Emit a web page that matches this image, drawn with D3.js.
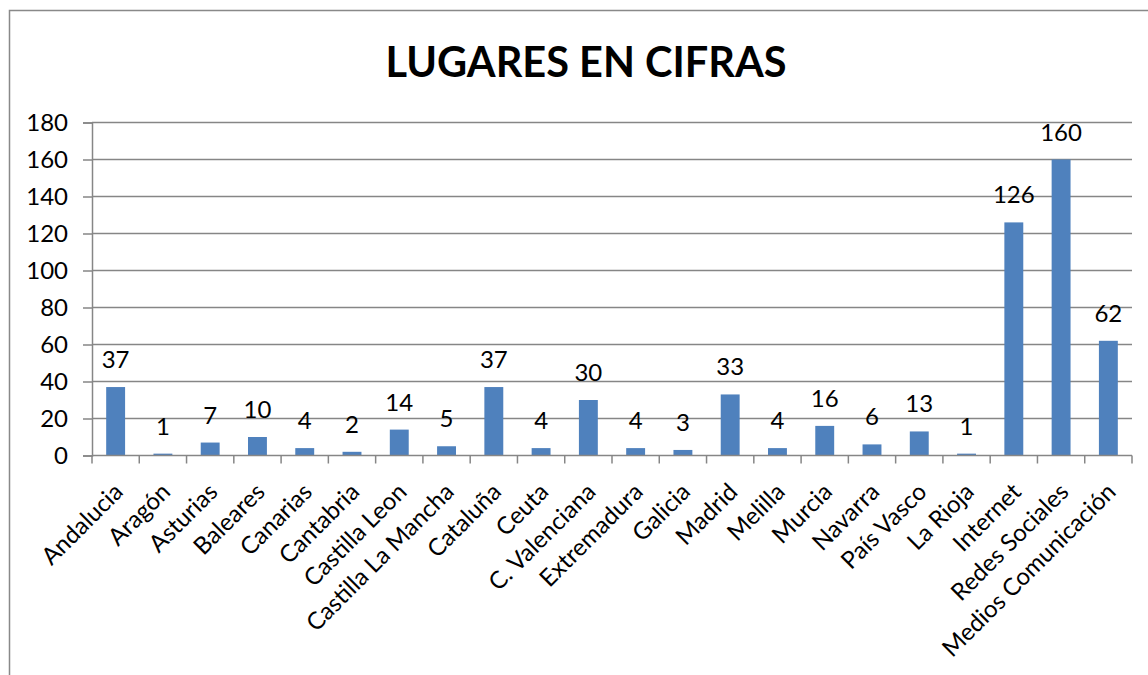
<!DOCTYPE html>
<html>
<head>
<meta charset="utf-8">
<script src="https://cdn.jsdelivr.net/npm/d3@7"></script>
<style>
  body { margin: 0; background: #fff; }
  text { font-family: Lato, "Open Sans", sans-serif; }
</style>
</head>
<body>
<div id="chart"></div>
<script>
var categories = ["Andalucia", "Aragón", "Asturias", "Baleares", "Canarias", "Cantabria",
    "Castilla Leon", "Castilla La Mancha", "Cataluña", "Ceuta", "C. Valenciana", "Extremadura",
    "Galicia", "Madrid", "Melilla", "Murcia", "Navarra", "País Vasco", "La Rioja",
    "Internet", "Redes Sociales", "Medios Comunicación"];
var values = [37, 1, 7, 10, 4, 2, 14, 5, 37, 4, 30, 4, 3, 33, 4, 16, 6, 13, 1, 126, 160, 62];
var yTicks = [0, 20, 40, 60, 80, 100, 120, 140, 160, 180];
var title = "LUGARES EN CIFRAS";

var width = 1148;
var height = 675;
var padding = { left: 92, right: 16, top: 122.5, bottom: 219.5 };
var barColor = "#4f81bd";
var gridColor = "#868686";
var fontSize = "24px";

var svg = d3.select("#chart")
    .append("svg")
    .attr("width", width)
    .attr("height", height);

// outer frame of the chart area
svg.append("rect")
    .attr("x", 9.5)
    .attr("y", 10.5)
    .attr("width", width + 20)
    .attr("height", height + 20)
    .attr("fill", "none")
    .attr("stroke", "#898989")
    .attr("stroke-width", 1.5);

svg.append("text")
    .attr("x", 586)
    .attr("y", 77)
    .attr("text-anchor", "middle")
    .attr("font-size", "41.5px")
    .attr("font-weight", "bold")
    .text(title);

var x = d3.scaleBand()
    .domain(categories)
    .range([padding.left, width - padding.right])
    .paddingInner(0.6)
    .paddingOuter(0.3);

var y = d3.scaleLinear()
    .domain([0, 180])
    .range([height - padding.bottom, padding.top]);

// y axis
var yAxis = svg.append("g")
    .attr("transform", "translate(" + padding.left + ",0)")
    .call(d3.axisLeft(y).tickValues(yTicks).tickSize(9).tickPadding(15));
yAxis.select(".domain").attr("stroke", gridColor).attr("stroke-width", 1.5);
yAxis.selectAll(".tick line").attr("stroke", gridColor).attr("stroke-width", 1.5);
yAxis.selectAll(".tick text")
    .attr("font-size", fontSize)
    .attr("fill", "#000")
    .style("font-family", "Lato, sans-serif");

// gridlines
svg.append("g")
    .selectAll("line")
    .data(yTicks.slice(1))
    .enter()
    .append("line")
    .attr("x1", padding.left)
    .attr("x2", width - padding.right)
    .attr("y1", function (d) { return y(d); })
    .attr("y2", function (d) { return y(d); })
    .attr("stroke", gridColor)
    .attr("stroke-width", 1.5);

// bars
svg.append("g")
    .selectAll("rect")
    .data(values)
    .enter()
    .append("rect")
    .attr("x", function (d, i) { return x(categories[i]); })
    .attr("y", function (d) { return y(d); })
    .attr("width", x.bandwidth())
    .attr("height", function (d) { return y(0) - y(d); })
    .attr("fill", barColor);

// x axis with ticks between categories
var step = x.step();
var bounds = d3.range(categories.length + 1).map(function (i) { return padding.left + i * step; });
svg.append("line")
    .attr("x1", padding.left)
    .attr("x2", width - padding.right)
    .attr("y1", y(0))
    .attr("y2", y(0))
    .attr("stroke", gridColor)
    .attr("stroke-width", 1.5);
svg.append("g")
    .selectAll("line")
    .data(bounds)
    .enter()
    .append("line")
    .attr("x1", function (d) { return d; })
    .attr("x2", function (d) { return d; })
    .attr("y1", y(0))
    .attr("y2", y(0) + 8)
    .attr("stroke", gridColor)
    .attr("stroke-width", 1.5);

// value labels
svg.append("g")
    .selectAll("text")
    .data(values)
    .enter()
    .append("text")
    .attr("x", function (d, i) { return x(categories[i]) + x.bandwidth() / 2; })
    .attr("y", function (d) { return y(d) - 19; })
    .attr("text-anchor", "middle")
    .attr("font-size", fontSize)
    .text(function (d) { return d; });

// category labels, rotated
svg.append("g")
    .selectAll("text")
    .data(categories)
    .enter()
    .append("text")
    .attr("transform", function (d) {
        var cx = x(d) + x.bandwidth() / 2 - 3;
        return "translate(" + cx + "," + (y(0) + 26) + ") rotate(-45)";
    })
    .attr("text-anchor", "end")
    .attr("dy", "0.7em")
    .attr("font-size", fontSize)
    .text(function (d) { return d; });
</script>
</body>
</html>
